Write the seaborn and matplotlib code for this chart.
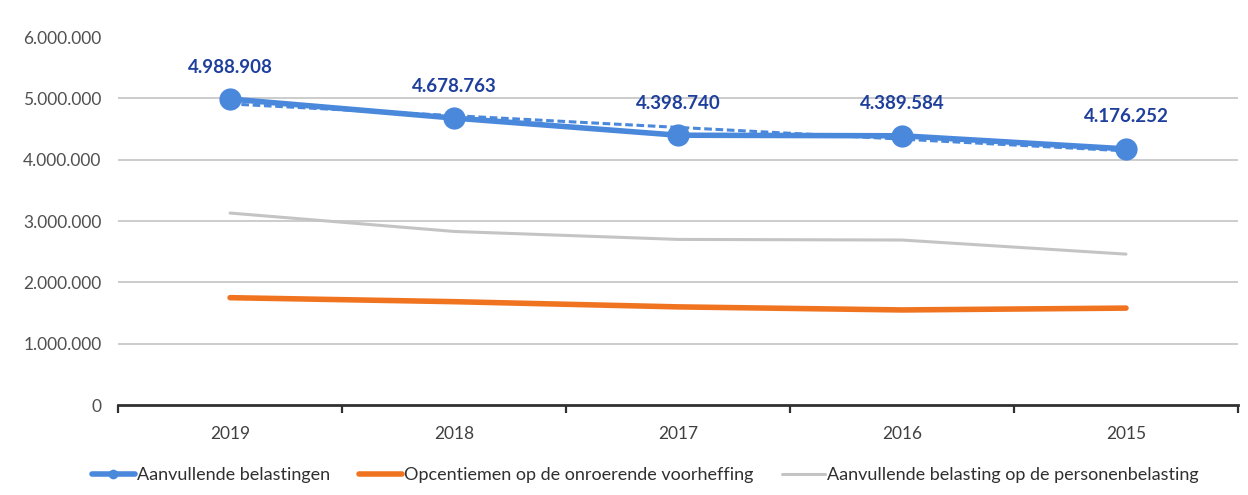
import numpy as np
import pandas as pd
import matplotlib
matplotlib.use("Agg")
import matplotlib.pyplot as plt
from matplotlib.ticker import FuncFormatter, FixedLocator
import seaborn as sns

# --------------------------------------------------------------------------- #
# Data
# --------------------------------------------------------------------------- #
YEARS = ["2019", "2018", "2017", "2016", "2015"]
AANVULLENDE = [4988908, 4678763, 4398740, 4389584, 4176252]
OPCENTIEMEN = [1750000, 1685000, 1600000, 1550000, 1580000]
PERSONENBELASTING = [3130000, 2830000, 2700000, 2690000, 2460000]

LABELS = ["Aanvullende belastingen",
          "Opcentiemen op de onroerende voorheffing",
          "Aanvullende belasting op de personenbelasting"]

BLUE = "#4a88dc"
ORANGE = "#f07420"
GREY = "#c4c4c4"
LABEL_BLUE = "#1f3f9c"

sns.set_style("white")
plt.rcParams["font.family"] = ["Lato", "DejaVu Sans"]


def _dots(v, _pos=None):
    return f"{int(round(v)):,}".replace(",", ".")


df = pd.DataFrame({"pos": np.arange(len(YEARS)), "year": YEARS,
                   "blue": AANVULLENDE, "orange": OPCENTIEMEN,
                   "grey": PERSONENBELASTING})

fig = plt.figure(figsize=(12.48, 4.95), dpi=100)
ax = fig.add_axes([0.0946, 0.1818, 0.8974, 0.7434])

sns.lineplot(data=df, x="pos", y="grey", color=GREY, lw=2.2,
             label=LABELS[2], ax=ax, zorder=2)
sns.lineplot(data=df, x="pos", y="orange", color=ORANGE, lw=4,
             label=LABELS[1], ax=ax, zorder=3)
# linear trendline of the blue series
sns.regplot(data=df, x="pos", y="blue", scatter=False, ci=None, truncate=True,
            color=BLUE, line_kws=dict(ls=(0, (2.5, 1.2)), lw=2.2), ax=ax)
sns.lineplot(data=df, x="pos", y="blue", color=BLUE, lw=4, marker="o",
             markersize=16, markeredgewidth=0, label=LABELS[0], ax=ax,
             zorder=5)

for x, y in zip(df["pos"], df["blue"]):
    ax.annotate(_dots(y), (x, y), xytext=(0, 23), textcoords="offset points",
                ha="center", va="center", fontsize=13.5, fontweight="bold",
                color=LABEL_BLUE)

ax.set_xlim(-0.5, len(YEARS) - 0.5)
ax.set_ylim(0, 6_000_000)
ax.set_yticks(np.arange(0, 6_000_001, 1_000_000))
ax.yaxis.set_major_formatter(FuncFormatter(_dots))
ax.set_xticks(df["pos"])
ax.set_xticklabels(YEARS)
ax.xaxis.set_minor_locator(FixedLocator(np.arange(-0.5, len(YEARS), 1.0)))
ax.tick_params(axis="x", which="major", length=0, pad=15, labelsize=12.5,
               labelcolor="#404040")
ax.tick_params(axis="x", which="minor", bottom=True, length=6, width=1.6,
               color="#303030", direction="out")
ax.tick_params(axis="y", length=0, pad=12, labelsize=12.5,
               labelcolor="#505050")
ax.set_xlabel("")
ax.set_ylabel("")

ax.grid(axis="y", color="#c8c8c8", lw=1.3)
ax.yaxis.get_gridlines()[0].set_visible(False)
ax.yaxis.get_gridlines()[-1].set_visible(False)
ax.set_axisbelow(True)
for side in ["left", "right", "top"]:
    ax.spines[side].set_visible(False)
ax.spines["bottom"].set_color("#303030")
ax.spines["bottom"].set_linewidth(2)

handles, labels = ax.get_legend_handles_labels()
order = [labels.index(l) for l in LABELS]
ax.legend([handles[i] for i in order], [labels[i] for i in order],
          loc="center", bbox_to_anchor=(0.517, 0.04),
          bbox_transform=fig.transFigure, ncol=3, frameon=False,
          fontsize=13, handlelength=2.4, handletextpad=0.1,
          columnspacing=1.6, labelcolor="#303030")
for h in ax.get_legend().legend_handles:
    h.set_markersize(7)

fig.savefig("out.png", dpi=100, facecolor="white")
